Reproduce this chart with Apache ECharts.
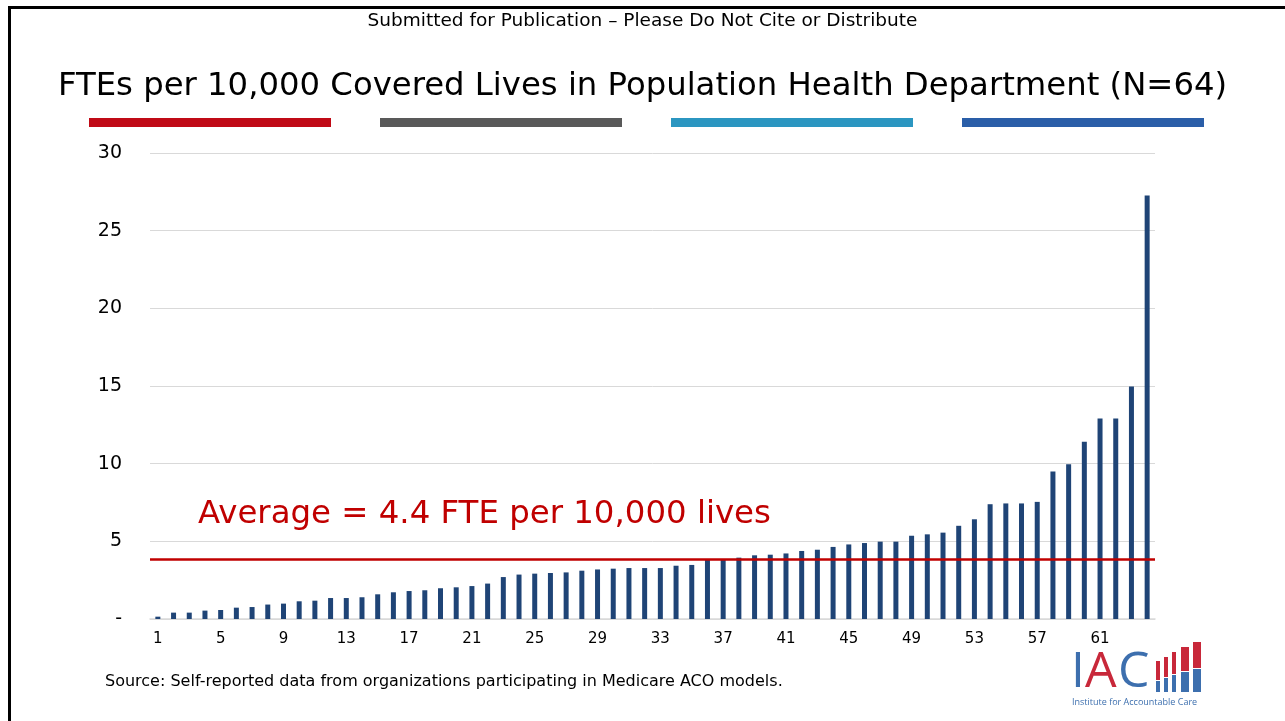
<!DOCTYPE html>
<html>
<head>
<meta charset="utf-8">
<script src="https://cdn.jsdelivr.net/npm/echarts@6/dist/echarts.min.js"></script>
<style>
  html, body { margin: 0; padding: 0; background: #fff; }
  #chart { width: 1285px; height: 721px; }
</style>
</head>
<body>
<div id="chart"></div>
<script>
// ==================== data ====================
const categories = Array.from({ length: 64 }, (_, i) => String(i + 1))

const fteValues = [
  0.15, 0.41, 0.41, 0.54, 0.58, 0.73, 0.77, 0.93, 0.99, 1.14,
  1.18, 1.35, 1.35, 1.40, 1.59, 1.72, 1.80, 1.85, 1.98, 2.04,
  2.12, 2.28, 2.70, 2.86, 2.92, 2.96, 3.00, 3.11, 3.19, 3.24,
  3.28, 3.28, 3.28, 3.43, 3.48, 3.80, 3.80, 3.95, 4.10, 4.14,
  4.22, 4.38, 4.46, 4.64, 4.80, 4.89, 4.98, 4.98, 5.36, 5.45,
  5.56, 6.00, 6.42, 7.39, 7.44, 7.44, 7.54, 9.50, 9.97, 11.41,
  12.90, 12.90, 14.97, 27.27
]

// red reference line as drawn in the picture
const averageLine = 3.86
const averageLabel = 'Average = 4.4 FTE per 10,000 lives'

const headerNote = 'Submitted for Publication \u2013 Please Do Not Cite or Distribute'
const chartTitle = 'FTEs per 10,000 Covered Lives in Population Health Department (N=64)'
const sourceNote = 'Source: Self-reported data from organizations participating in Medicare ACO models.'

const FONT = '"DejaVu Sans", Verdana, sans-serif'

// ==================== chart ====================
const chart = echarts.init(document.getElementById('chart'))

const stripeColors = ['#c00a16', '#595959', '#2b96c1', '#2a5ea8']
const stripes = stripeColors.map((c, i) => ({
  type: 'rect',
  shape: { x: 89 + i * 291, y: 118, width: 242, height: 9 },
  style: { fill: c },
  silent: true
}))

// IAC logo (decoration)
const logoBlue = '#3d6fae'
const logoRed = '#c8283a'
const logoBars = [
  { x: 1156, top: 661 },
  { x: 1164, top: 657 },
  { x: 1172, top: 652 },
  { x: 1181, top: 647 },
  { x: 1193, top: 642 }
]
const logo = []
logoBars.forEach((b, i) => {
  const w = i < 3 ? 4 : 8
  const split = 680 - i * 3
  logo.push({ type: 'rect', shape: { x: b.x, y: b.top, width: w, height: split - b.top }, style: { fill: logoRed }, silent: true })
  logo.push({ type: 'rect', shape: { x: b.x, y: split + 1, width: w, height: 692 - split - 1 }, style: { fill: logoBlue }, silent: true })
})
logo.push(
  { type: 'text', left: 1071, top: 648, style: { text: 'I', font: '50px "Open Sans", sans-serif', fill: logoBlue }, silent: true },
  { type: 'text', left: 1085, top: 648, style: { text: 'A', font: '50px "Open Sans", sans-serif', fill: logoRed }, silent: true },
  { type: 'text', left: 1118, top: 648, style: { text: 'C', font: '50px "Open Sans", sans-serif', fill: logoBlue }, silent: true },
  { type: 'text', left: 1072, top: 698, style: { text: 'Institute for Accountable Care', font: '9px "Open Sans", sans-serif', fill: logoBlue }, silent: true }
)

const option = {
  backgroundColor: '#fff',
  animation: false,
  textStyle: { fontFamily: FONT },
  title: [
    {
      text: headerNote,
      left: 'center',
      top: 7,
      textStyle: { fontFamily: FONT, fontSize: 18.5, fontWeight: 'normal', color: '#000' }
    },
    {
      text: chartTitle,
      left: 'center',
      top: 66,
      textStyle: { fontFamily: FONT, fontSize: 32.3, fontWeight: 'normal', color: '#000' }
    },
    {
      text: sourceNote,
      left: 100,
      top: 669,
      textStyle: { fontFamily: FONT, fontSize: 16, fontWeight: 'normal', color: '#000' }
    }
  ],
  grid: { left: 150, right: 130, top: 153, bottom: 102 },
  xAxis: {
    type: 'category',
    data: categories,
    axisLine: { lineStyle: { color: '#d9d9d9', width: 1.5 } },
    axisTick: { show: false },
    axisLabel: { interval: 3, color: '#000', fontSize: 15, fontFamily: FONT, margin: 13 }
  },
  yAxis: {
    type: 'value',
    min: 0,
    max: 30,
    interval: 5,
    axisLine: { show: false },
    axisTick: { show: false },
    axisLabel: {
      color: '#000',
      fontSize: 19,
      fontFamily: FONT,
      margin: 28,
      formatter: v => (v === 0 ? '-' : String(v))
    },
    splitLine: { lineStyle: { color: '#d9d9d9', width: 1 } }
  },
  series: [{
    type: 'bar',
    data: fteValues,
    barWidth: 5,
    itemStyle: { color: '#1f4476' },
    markLine: {
      silent: true,
      symbol: 'none',
      label: { show: false },
      lineStyle: { color: '#c00000', width: 2.5, type: 'solid' },
      data: [{ yAxis: averageLine }]
    }
  }],
  graphic: [
    { type: 'rect', shape: { x: 8, y: 6, width: 1277, height: 3 }, style: { fill: '#000' }, silent: true },
    { type: 'rect', shape: { x: 8, y: 6, width: 3, height: 715 }, style: { fill: '#000' }, silent: true },
    ...stripes,
    {
      type: 'text',
      left: 198,
      top: 499,
      style: { text: averageLabel, font: '32.4px ' + FONT, fill: '#c00000' },
      silent: true
    },
    ...logo
  ]
}

chart.setOption(option)
</script>
</body>
</html>
